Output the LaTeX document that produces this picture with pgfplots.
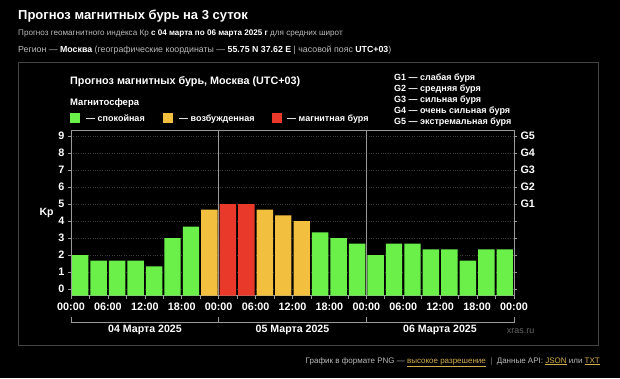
\documentclass[border=0pt]{standalone}
\usepackage{pgfplots}
\pgfplotsset{compat=1.18}
\usepackage{fontspec}
\setmainfont{Liberation Sans}
\definecolor{kgreen}{HTML}{6BF04A}
\definecolor{kyellow}{HTML}{F3BF3F}
\definecolor{kred}{HTML}{E8392B}
\definecolor{txtgray}{HTML}{BBBBBB}
\definecolor{framegray}{HTML}{444444}
\definecolor{axgray}{HTML}{9A9A9A}
\definecolor{gridgray}{HTML}{3A3A3A}
\definecolor{linkgold}{HTML}{D2AE4A}
\begin{document}
\begin{tikzpicture}[x=1pt,y=1pt]
\useasboundingbox (0,0) rectangle (620,378);
\fill[black] (0,0) rectangle (620,378);
% header
\node[anchor=base west,inner sep=0,text=white,font=\fontsize{13}{15}\selectfont\bfseries] at (18,358) {Прогноз магнитных бурь на 3 суток};
\node[anchor=base west,inner sep=0,text=txtgray,font=\fontsize{8.1}{10}\selectfont] at (18,342) {Прогноз геомагнитного индекса Кр {\color{white}\bfseries с 04 марта по 06 марта 2025 г} для средних широт};
\node[anchor=base west,inner sep=0,text=txtgray,font=\fontsize{8.8}{10}\selectfont] at (18,325) {Регион — {\color{white}\bfseries Москва} (географические координаты — {\color{white}\bfseries 55.75 N 37.62 E} | часовой пояс {\color{white}\bfseries UTC+03})};
% frame
\draw[framegray,line width=1pt] (18,315) rectangle (598,33);
% chart title and legend
\node[anchor=base west,inner sep=0,text=white,font=\fontsize{10.8}{12}\selectfont\bfseries] at (70,293.5) {Прогноз магнитных бурь, Москва (UTC+03)};
\node[anchor=base west,inner sep=0,text=white,font=\fontsize{9.5}{11}\selectfont\bfseries] at (70,272) {Магнитосфера};
\fill[kgreen] (70,255) rectangle (80,265);
\node[anchor=base west,inner sep=0,text=white,font=\fontsize{9}{11}\selectfont\bfseries] at (86,256.5) {— спокойная};
\fill[kyellow] (163,255) rectangle (173,265);
\node[anchor=base west,inner sep=0,text=white,font=\fontsize{9}{11}\selectfont\bfseries] at (179,256.5) {— возбужденная};
\fill[kred] (272,255) rectangle (282,265);
\node[anchor=base west,inner sep=0,text=white,font=\fontsize{9}{11}\selectfont\bfseries] at (287,256.5) {— магнитная буря};
\begin{scope}[every node/.style={anchor=base west,inner sep=0,text=white,font=\fontsize{9}{11}\selectfont\bfseries}]
\node at (394,297.8) {G1 — слабая буря};
\node at (394,286.6) {G2 — средняя буря};
\node at (394,275.4) {G3 — сильная буря};
\node at (394,264.2) {G4 — очень сильная буря};
\node at (394,253) {G5 — экстремальная буря};
\end{scope}
% main axis
\begin{axis}[
  at={(71pt,82.3pt)}, anchor=south west,
  scale only axis, width=443pt, height=165.7pt,
  xmin=0, xmax=24, ymin=-0.39, ymax=9.35,
  axis line style={axgray, line width=0.8pt},
  axis y line*=left, axis x line*=bottom,
  ytick={0,...,9},
  xtick={0,2,...,24},
  xticklabels={00:00,06:00,12:00,18:00,00:00,06:00,12:00,18:00,00:00,06:00,12:00,18:00,00:00},
  minor xtick={1,3,...,23},
  tick align=outside,
  major tick length=3pt, minor tick length=3pt,
  tick style={axgray, line width=0.6pt},
  ymajorgrids, major grid style={gridgray, dotted, line width=0.6pt},
  extra x ticks={8,16}, extra x tick labels={},
  extra x tick style={grid=major, major grid style={axgray, solid, line width=0.8pt}, major tick length=0pt},
  ticklabel style={text=white, font=\fontsize{10.8}{12}\selectfont\bfseries},
  /pgf/number format/assume math mode=true,
  xticklabel style={yshift=-0.5pt},
  clip=false,
]
% bars (extended to the bottom of the axis with strips below zero)
\addplot[ybar, bar width=16.4pt, bar shift=0pt, fill=kgreen, draw=none] coordinates {
 (0.5,2) (1.5,1.67) (2.5,1.67) (3.5,1.67) (4.5,1.33) (5.5,3) (6.5,3.67)
 (13.5,3.33) (14.5,3) (15.5,2.67)
 (16.5,2) (17.5,2.67) (18.5,2.67) (19.5,2.33) (20.5,2.33) (21.5,1.67) (22.5,2.33) (23.5,2.33)};
\addplot[ybar, bar width=16.4pt, bar shift=0pt, fill=kyellow, draw=none] coordinates {
 (7.5,4.67) (10.5,4.67) (11.5,4.33) (12.5,4)};
\addplot[ybar, bar width=16.4pt, bar shift=0pt, fill=kred, draw=none] coordinates {
 (8.5,5) (9.5,5)};
\addplot[ybar, bar width=16.4pt, bar shift=0pt, fill=kgreen, draw=none, forget plot] coordinates {
 (0.5,-0.39) (1.5,-0.39) (2.5,-0.39) (3.5,-0.39) (4.5,-0.39) (5.5,-0.39) (6.5,-0.39)
 (13.5,-0.39) (14.5,-0.39) (15.5,-0.39)
 (16.5,-0.39) (17.5,-0.39) (18.5,-0.39) (19.5,-0.39) (20.5,-0.39) (21.5,-0.39) (22.5,-0.39) (23.5,-0.39)};
\addplot[ybar, bar width=16.4pt, bar shift=0pt, fill=kyellow, draw=none, forget plot] coordinates {
 (7.5,-0.39) (10.5,-0.39) (11.5,-0.39) (12.5,-0.39)};
\addplot[ybar, bar width=16.4pt, bar shift=0pt, fill=kred, draw=none, forget plot] coordinates {
 (8.5,-0.39) (9.5,-0.39)};
\draw[axgray, line width=0.8pt] (rel axis cs:0,1) -- (rel axis cs:1,1);
\end{axis}
% right axis with G levels
\begin{axis}[
  at={(71pt,82.3pt)}, anchor=south west,
  scale only axis, width=443pt, height=165.7pt,
  xmin=0, xmax=24, ymin=-0.39, ymax=9.35,
  axis y line*=right, axis x line=none,
  axis line style={axgray, line width=0.8pt},
  ytick={0,...,9},
  yticklabels={,,,,,G1,G2,G3,G4,G5},
  tick align=outside, major tick length=3pt,
  tick style={axgray, line width=0.6pt},
  ticklabel style={text=white, font=\fontsize{10.8}{12}\selectfont\bfseries},
]
\addplot[draw=none] coordinates {(0,0)};
\end{axis}
% y label
\node[text=white,font=\fontsize{10.5}{12}\selectfont\bfseries] at (46.5,165) {Kp};
% day brackets
\begin{scope}[axgray, line width=0.8pt]
\draw (71,60.7) -- (71,55.3) -- (514,55.3) -- (514,60.7);
\draw (218.7,60.7) -- (218.7,55.3);
\draw (366.3,60.7) -- (366.3,55.3);
\end{scope}
\begin{scope}[every node/.style={inner sep=0,text=white,font=\fontsize{10.6}{12}\selectfont\bfseries}]
\node at (145,48) {04 Марта 2025};
\node at (292.5,48) {05 Марта 2025};
\node at (440,48) {06 Марта 2025};
\end{scope}
\node[inner sep=0,text=gray!80!black,font=\fontsize{9}{11}\selectfont] at (520.5,47) {xras.ru};
% footer
\node[anchor=base east,inner sep=0,text=txtgray,font=\fontsize{8}{10}\selectfont] at (600,15) {График в формате PNG — {\color{linkgold}\underline{высокое разрешение}} \ {\color{gray}|} \ Данные API: {\color{linkgold}\underline{JSON}} или {\color{linkgold}\underline{TXT}}};
\end{tikzpicture}
\end{document}
